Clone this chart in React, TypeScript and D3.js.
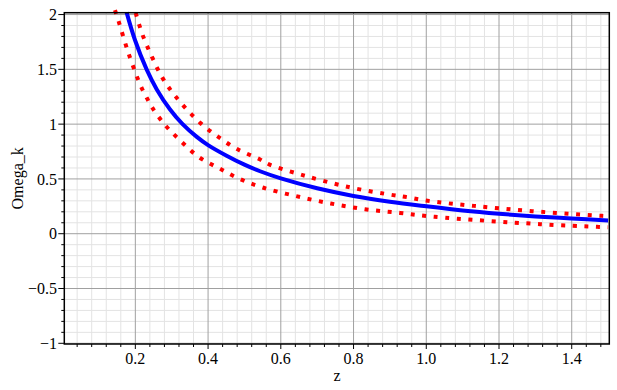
import React from "react";
import * as d3 from "d3";

const blueZ = [0.176, 0.199, 0.231, 0.259, 0.295, 0.33, 0.369, 0.4, 0.451, 0.5, 0.543, 0.6, 0.7, 0.8, 0.9, 1.0, 1.1, 1.2, 1.3, 1.4, 1.5];
const blueV = [2.02, 1.768, 1.5, 1.317, 1.136, 1.0, 0.884, 0.809, 0.712, 0.63, 0.57, 0.505, 0.415, 0.345, 0.292, 0.25, 0.212, 0.182, 0.158, 0.139, 0.12];

const upperZ = [0.201, 0.22, 0.246, 0.275, 0.312, 0.378, 0.428, 0.48, 0.543, 0.568, 0.66, 0.783, 0.909, 0.941, 1.004, 1.131, 1.291, 1.484, 1.5];
const upperV = [2.014, 1.813, 1.612, 1.42, 1.247, 1.012, 0.884, 0.772, 0.678, 0.632, 0.535, 0.428, 0.352, 0.337, 0.3, 0.254, 0.206, 0.163, 0.16];

const lowerZ = [0.144, 0.153, 0.181, 0.215, 0.229, 0.245, 0.282, 0.327, 0.376, 0.431, 0.488, 0.55, 0.642, 0.737, 0.831, 0.928, 1.023, 1.313, 1.47, 1.5];
const lowerV = [2.04, 1.95, 1.649, 1.347, 1.256, 1.158, 0.991, 0.839, 0.696, 0.596, 0.498, 0.422, 0.343, 0.276, 0.224, 0.19, 0.154, 0.087, 0.063, 0.06];

const xTicks = [0.2, 0.4, 0.6, 0.8, 1.0, 1.2, 1.4];
const xTickLabels = ["0.2", "0.4", "0.6", "0.8", "1.0", "1.2", "1.4"];
const yTicks = [-1, -0.5, 0, 0.5, 1, 1.5, 2];
const yTickLabels = ["\u22121", "\u22120.5", "0", "0.5", "1", "1.5", "2"];

const W = 617;
const H = 390;
const FL = 64.3, FR = 609.3, FT = 12.7, FB = 344;

export default function App() {
  const x = d3.scaleLinear().domain([0, 1.5]).range([62.6, 608.1]);
  const y = d3.scaleLinear().domain([-1, 2]).range([343.3, 14.55]);

  const line = d3
    .line<[number, number]>()
    .x((d) => x(d[0]))
    .y((d) => y(d[1]))
    .curve(d3.curveCatmullRom.alpha(0.5));

  const blue = blueZ.map((z, i) => [z, blueV[i]] as [number, number]);
  const upper = upperZ.map((z, i) => [z, upperV[i]] as [number, number]);
  const lower = lowerZ.map((z, i) => [z, lowerV[i]] as [number, number]);

  const xMinor: number[] = [];
  for (let i = 1; i <= 37; i++) if (i % 5 !== 0) xMinor.push(i * 0.04);
  const yMinor: number[] = [];
  for (let i = -9; i <= 19; i++) if (i % 5 !== 0) yMinor.push(i / 10);

  const ts: React.CSSProperties = {
    fontFamily: '"Liberation Serif", "DejaVu Serif", "Times New Roman", serif',
    fontSize: "16px",
  };

  return (
    <svg
      width={W}
      height={H}
      style={{ position: "absolute", left: 0, top: 0, background: "#fff" }}
    >
      <rect x={0} y={0} width={W} height={H} fill="#fff" />
      {xMinor.map((v, i) => (
        <line key={"xm" + i} x1={x(v)} x2={x(v)} y1={FT} y2={FB} stroke="#e3e3e3" strokeWidth={1} />
      ))}
      {yMinor.map((v, i) => (
        <line key={"ym" + i} x1={FL} x2={FR} y1={y(v)} y2={y(v)} stroke="#e3e3e3" strokeWidth={1} />
      ))}
      {xTicks.map((v, i) => (
        <line key={"xM" + i} x1={x(v)} x2={x(v)} y1={FT} y2={FB} stroke="#a0a0a0" strokeWidth={1} />
      ))}
      {yTicks.map((v, i) => (
        <line key={"yM" + i} x1={FL} x2={FR} y1={y(v)} y2={y(v)} stroke="#a0a0a0" strokeWidth={1} />
      ))}
      {xMinor.map((v, i) => (
        <line key={"xmt" + i} x1={x(v)} x2={x(v)} y1={FB} y2={FB + 3} stroke="#000" strokeWidth={1} />
      ))}
      {xTicks.map((v, i) => (
        <line key={"xMt" + i} x1={x(v)} x2={x(v)} y1={FB} y2={FB + 5} stroke="#000" strokeWidth={1} />
      ))}
      {yMinor.map((v, i) => (
        <line key={"ymt" + i} x1={FL - 3} x2={FL} y1={y(v)} y2={y(v)} stroke="#000" strokeWidth={1} />
      ))}
      {yTicks.map((v, i) => (
        <line key={"yMt" + i} x1={FL - 6} x2={FL} y1={y(v)} y2={y(v)} stroke="#000" strokeWidth={1} />
      ))}
      <path d={line(upper) || ""} fill="none" stroke="#ff0000" strokeWidth={4} strokeDasharray="4 7.6" />
      <path d={line(lower) || ""} fill="none" stroke="#ff0000" strokeWidth={4} strokeDasharray="4 7.6" />
      <path d={line(blue) || ""} fill="none" stroke="#0000ff" strokeWidth={4} />
      <rect x={FL} y={FT} width={FR - FL} height={FB - FT} fill="none" stroke="#000" strokeWidth={1.5} />
      {xTicks.map((v, i) => (
        <text key={"xl" + i} x={x(v)} y={364} textAnchor="middle" style={ts} fill="#000">
          {xTickLabels[i]}
        </text>
      ))}
      {yTicks.map((v, i) => (
        <text key={"yl" + i} x={57} y={y(v)} dy="0.35em" textAnchor="end" style={ts} fill="#000">
          {yTickLabels[i]}
        </text>
      ))}
      <text x={337} y={381} textAnchor="middle" style={ts} fill="#000">
        z
      </text>
      <text
        transform={`translate(23, ${(FT + FB) / 2}) rotate(-90)`}
        textAnchor="middle"
        style={ts}
        fill="#000"
      >
        Omega_k
      </text>
    </svg>
  );
}
